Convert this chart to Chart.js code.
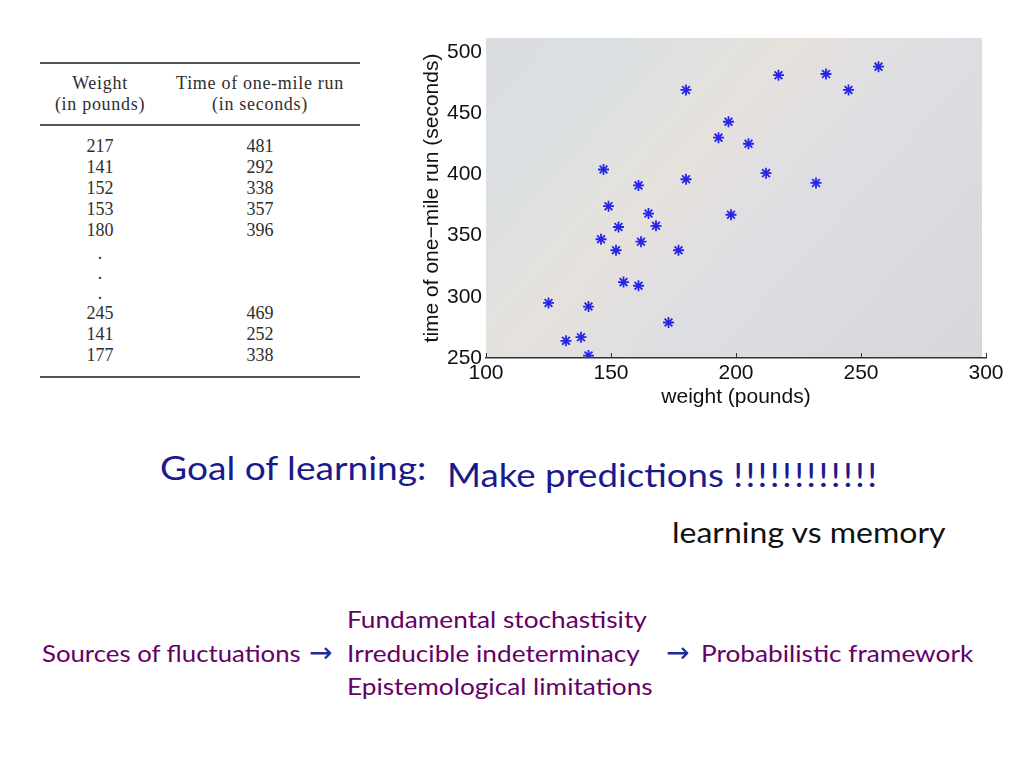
<!DOCTYPE html>
<html>
<head>
<meta charset="utf-8">
<script src="https://cdn.jsdelivr.net/npm/chart.js@4.4.1/dist/chart.umd.min.js"></script>
<style>
  html, body { margin: 0; padding: 0; background: #fff; }
  #slide { position: relative; width: 1024px; height: 768px; overflow: hidden; }
  .t { position: absolute; white-space: pre; line-height: 1; font-family: Lato, "Open Sans", sans-serif; transform-origin: 0 50%; }
  .goal { color: #1a1a8c; }
  .purple { color: #660066; font-size: 23px; transform: scaleX(1.14); }
  .arrow { color: #1f2d9c; font-family: "DejaVu Sans", sans-serif; font-size: 28px; transform: scaleX(1.0); }
  #tbl { position: absolute; left: 40px; top: 0; width: 320px; font-family: "Liberation Serif", serif; font-size: 18px; color: #2e2e2e; }
  #tbl .rule { position: absolute; left: 0; width: 320px; background: #555; }
  #tbl .c { position: absolute; transform: translateX(-50%); line-height: 1; white-space: pre; }
  #tbl .h { letter-spacing: 0.7px; }
  #chartBox { position: absolute; left: 420px; top: 30px; }
</style>
</head>
<body>
<div id="slide">
  <div id="tbl"></div>
  <div id="chartBox"><canvas id="scatter" width="604" height="385"></canvas></div>

  <div class="t goal" style="left:160px; top:452px; font-size:32px; transform:scaleX(1.16);">Goal of learning:</div>
  <div class="t goal" style="left:447px; top:458px; font-size:33px; transform:scaleX(1.11);">Make predictions <span style="letter-spacing:2.1px">!!!!!!!!!!!!</span></div>
  <div class="t" style="left:672px; top:518px; font-size:28px; color:#111; transform:scaleX(1.143);">learning vs memory</div>

  <div class="t purple" style="left:347px; top:608px;">Fundamental stochastisity</div>
  <div class="t purple" style="left:42px; top:642px; transform:scaleX(1.12);">Sources of fluctuations</div>
  <div class="t arrow" style="left:309px; top:639px;">→</div>
  <div class="t purple" style="left:347px; top:642px;">Irreducible indeterminacy</div>
  <div class="t arrow" style="left:666px; top:639px;">→</div>
  <div class="t purple" style="left:701px; top:642px;">Probabilistic framework</div>
  <div class="t purple" style="left:347px; top:675px;">Epistemological limitations</div>
</div>

<script>
// scatter data: weight (pounds) vs time of one-mile run (seconds)
const weights = [125, 132, 138, 141, 141, 146, 147, 149, 152, 153, 155, 161, 161, 162, 165,
                 168, 173, 177, 180, 180, 193, 197, 198, 205, 212, 217, 232, 236, 245, 257];
const times = [295, 264, 267, 292, 252, 347, 404, 374, 338, 357, 312, 391, 309, 345, 368,
               358, 279, 338, 396, 469, 430, 443, 367, 425, 401, 481, 393, 482, 469, 488];

const xTicks = [100, 150, 200, 250, 300];
const yTicks = [250, 300, 350, 400, 450, 500];

// the table to the left
const tableHeadLeft = ["Weight", "(in pounds)"];
const tableHeadRight = ["Time of one-mile run", "(in seconds)"];
const tableTopWeights = ["217", "141", "152", "153", "180"];
const tableTopTimes = ["481", "292", "338", "357", "396"];
const tableEndWeights = ["245", "141", "177"];
const tableEndTimes = ["469", "252", "338"];

// --- table ---
const tbl = document.getElementById("tbl");
function rule(y, h) {
  const d = document.createElement("div");
  d.className = "rule";
  d.style.top = (y - h / 2) + "px";
  d.style.height = h + "px";
  tbl.appendChild(d);
}
function cell(txt, x, y, cls) {
  const d = document.createElement("div");
  d.className = "c" + (cls ? " " + cls : "");
  d.textContent = txt;
  d.style.left = x + "px";
  d.style.top = (y - 9) + "px";
  tbl.appendChild(d);
}
const col1 = 60, col2 = 220;
rule(63, 2);
rule(125, 1.2);
rule(377, 2);
tableHeadLeft.forEach((s, i) => cell(s, col1, 83 + i * 21, "h"));
tableHeadRight.forEach((s, i) => cell(s, col2, 83 + i * 21, "h"));
tableTopWeights.forEach((s, i) => {
  cell(s, col1, 146 + i * 21);
  cell(tableTopTimes[i], col2, 146 + i * 21);
});
[253, 273, 293].forEach((y) => cell(".", col1, y));
tableEndWeights.forEach((s, i) => {
  cell(s, col1, 313 + i * 21);
  cell(tableEndTimes[i], col2, 313 + i * 21);
});

// --- chart ---
const plotBackground = {
  id: "plotBackground",
  beforeDraw(chart) {
    const { ctx, chartArea: a } = chart;
    // faint diagonal light band running bottom-left to top-right
    const cx = a.left + 169, cy = a.top + 160;
    const g = ctx.createLinearGradient(cx - 320, cy - 290, cx + 320, cy + 290);
    g.addColorStop(0, "#d8dade");
    g.addColorStop(0.36, "#dcdfe1");
    g.addColorStop(0.44, "#e1e2df");
    g.addColorStop(0.5, "#e6e1dc");
    g.addColorStop(0.56, "#e2dfe1");
    g.addColorStop(0.64, "#dcdee1");
    g.addColorStop(1, "#d4d5d9");
    ctx.save();
    ctx.fillStyle = g;
    ctx.fillRect(a.left, a.top, a.right - a.left - 4, a.bottom - a.top);
    ctx.restore();
  },
  afterDraw(chart) {
    // inward tick marks on the bottom axis
    const { ctx, chartArea: a } = chart;
    const xs = chart.scales.x;
    ctx.save();
    ctx.strokeStyle = "#333";
    ctx.lineWidth = 1;
    xTicks.forEach((v) => {
      const px = Math.round(xs.getPixelForValue(v)) + 0.5;
      ctx.beginPath();
      ctx.moveTo(px, a.bottom);
      ctx.lineTo(px, a.bottom - 5);
      ctx.stroke();
    });
    ctx.restore();
  },
};

const tickFont = { family: "'Liberation Sans', Arial, sans-serif", size: 21 };
const titleFont = { family: "'Liberation Sans', Arial, sans-serif", size: 21 };

new Chart(document.getElementById("scatter").getContext("2d"), {
  type: "scatter",
  data: {
    datasets: [
      {
        data: weights.map((w, i) => ({ x: w, y: times[i] })),
        pointStyle: "star",
        radius: 5.5,
        borderColor: "#2626e6",
        backgroundColor: "#2626e6",
        borderWidth: 1.8,
      },
    ],
  },
  options: {
    responsive: false,
    animation: false,
    layout: { padding: { top: 8, right: 38, left: 0, bottom: 0 } },
    plugins: { legend: { display: false }, tooltip: { enabled: false } },
    scales: {
      x: {
        type: "linear",
        min: 100,
        max: 300,
        afterBuildTicks: (s) => { s.ticks = xTicks.map((v) => ({ value: v })); },
        afterFit: (s) => { s.height = 57; s.paddingLeft = 0; s.paddingRight = 0; },
        grid: { display: false, drawTicks: false },
        border: { display: true, color: "#333", width: 1.5 },
        ticks: { font: tickFont, color: "#111", padding: 3, maxRotation: 0 },
        title: {
          display: true,
          text: "weight (pounds)",
          font: titleFont,
          color: "#111",
          padding: { top: 0, bottom: 5 },
        },
      },
      y: {
        type: "linear",
        min: 250,
        max: 511.4,
        afterBuildTicks: (s) => { s.ticks = yTicks.map((v) => ({ value: v })); },
        afterFit: (s) => { s.width = 66; s.paddingTop = 0; s.paddingBottom = 0; },
        grid: { display: false, drawTicks: false },
        border: { display: false },
        ticks: { font: tickFont, color: "#111", padding: 4 },
        title: {
          display: true,
          text: "time of one\u2212mile run (seconds)",
          font: titleFont,
          color: "#111",
          padding: { top: 0, bottom: 0 },
        },
      },
    },
  },
  plugins: [plotBackground],
});
</script>
</body>
</html>
